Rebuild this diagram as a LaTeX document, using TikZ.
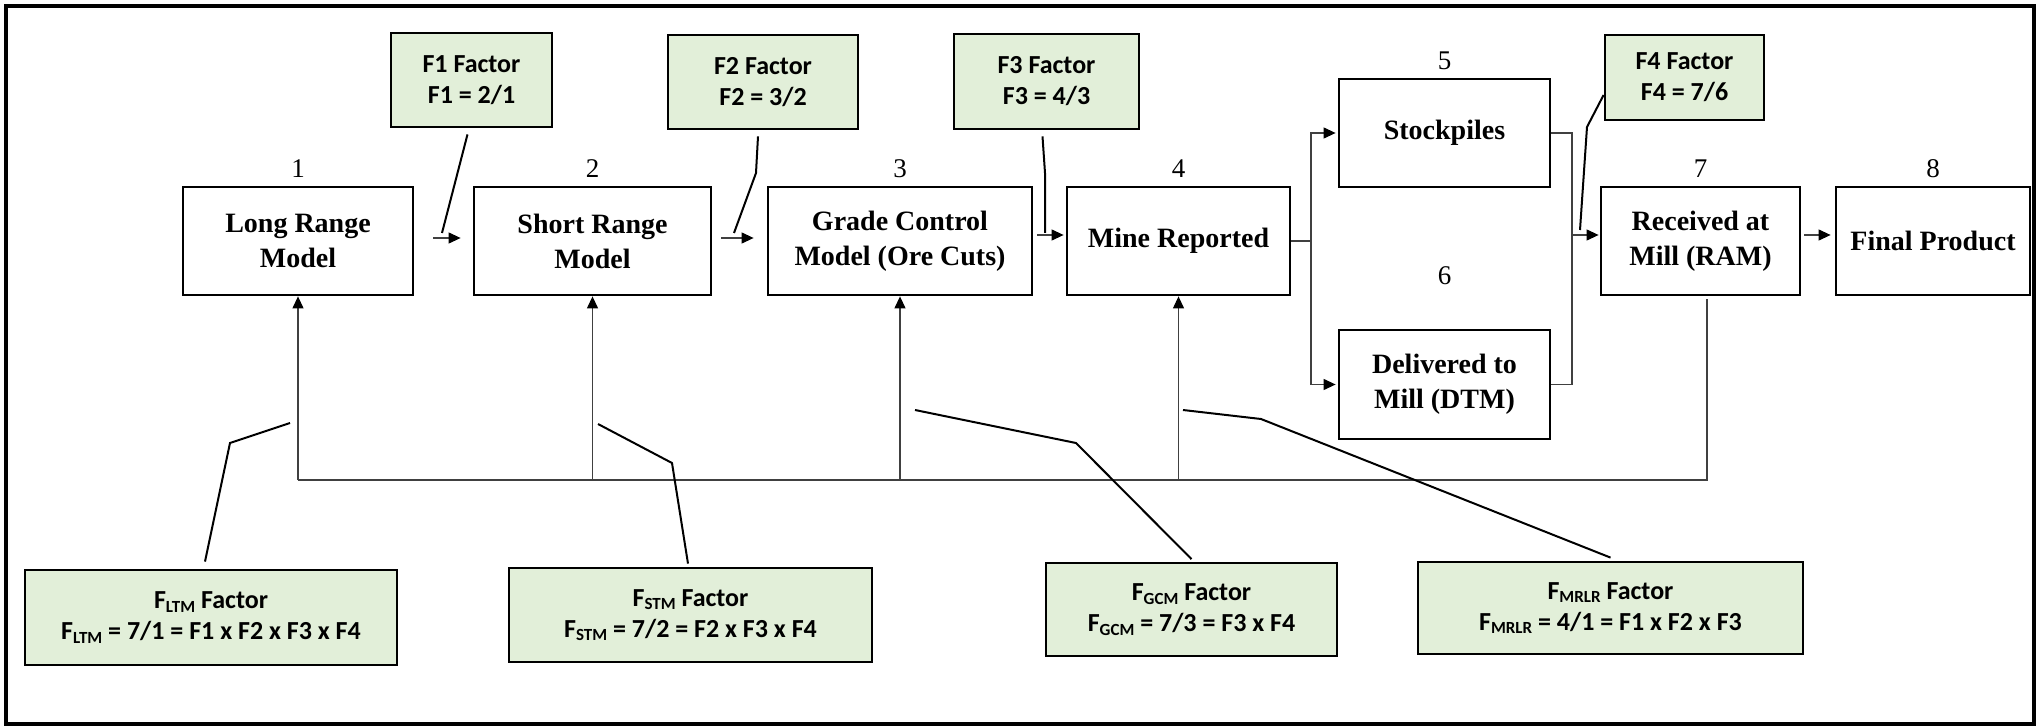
\documentclass[tikz,border=0pt]{standalone}
\usepackage{fontspec}
\setmainfont{Liberation Serif}
\newfontfamily\factorfont{Carlito}
\usetikzlibrary{arrows.meta,calc}
\definecolor{factorgreen}{HTML}{E2EFD9}
\newcommand\fsub[1]{\raisebox{-1.8pt}{\fontsize{8.5}{10}\selectfont #1}}
\begin{document}
\begin{tikzpicture}[x=0.5pt,y=-0.5pt,
  mainbox/.style={draw, line width=1.4pt, fill=white, align=center, inner sep=0pt,
    font=\fontsize{14}{17.5}\selectfont\bfseries},
  factorbox/.style={draw, line width=1.4pt, fill=factorgreen, align=center, inner sep=0pt,
    font=\factorfont\fontsize{13}{15.5}\selectfont\bfseries},
  numlabel/.style={font=\fontsize{13.5}{16}\selectfont, anchor=base, inner sep=0pt},
  lead/.style={line width=1pt},
  bus/.style={line width=0.6pt, draw=black!75},
  flow/.style={bus, -{Triangle[length=6pt,width=5.5pt,color=black]}},
]
\fill[white] (0,0) rectangle (2041,727);
\useasboundingbox (0,0) rectangle (2041,727);
\draw[line width=2.2pt] (6,6) rectangle (2034,724);

% process boxes
\node[mainbox, minimum width=115pt,   minimum height=54pt]   (b1) at (298,241)    {Long Range\\Model};
\node[mainbox, minimum width=118.5pt, minimum height=54pt]   (b2) at (592.5,241)  {Short Range\\Model};
\node[mainbox, minimum width=132pt,   minimum height=54pt]   (b3) at (900,241)    {Grade Control\\Model (Ore Cuts)};
\node[mainbox, minimum width=111.5pt, minimum height=54pt]   (b4) at (1178.5,241) {Mine Reported};
\node[mainbox, minimum width=105.5pt, minimum height=54pt]   (b5) at (1444.5,133) {Stockpiles};
\node[mainbox, minimum width=105.5pt, minimum height=54.5pt] (b6) at (1444.5,384.5) {Delivered to\\Mill (DTM)};
\node[mainbox, minimum width=99.5pt,  minimum height=54pt]   (b7) at (1700.5,241) {Received at\\Mill (RAM)};
\node[mainbox, minimum width=97pt,    minimum height=54pt]   (b8) at (1933,241)   {Final Product};

% step numbers
\node[numlabel] (n1) at (298,178)    {1};
\node[numlabel] (n2) at (592.5,178)  {2};
\node[numlabel] (n3) at (900,178)    {3};
\node[numlabel] (n4) at (1178.5,178) {4};
\node[numlabel] (n5) at (1444.5,70)  {5};
\node[numlabel] (n6) at (1444.5,285) {6};
\node[numlabel] (n7) at (1700.5,178) {7};
\node[numlabel] (n8) at (1933,178)   {8};

% step factors
\node[factorbox, minimum width=80.5pt, minimum height=47pt]   (f1) at (471.5,80)    {F1 Factor\\F1 = 2/1};
\node[factorbox, minimum width=95pt,   minimum height=47pt]   (f2) at (763,82)      {F2 Factor\\F2 = 3/2};
\node[factorbox, minimum width=92.5pt, minimum height=47.5pt] (f3) at (1046.5,81.5) {F3 Factor\\F3 = 4/3};
\node[factorbox, minimum width=79.5pt, minimum height=42.5pt] (f4) at (1684.5,77.5) {F4 Factor\\F4 = 7/6};

% combined factors
\node[factorbox, minimum width=186pt,   minimum height=47.5pt] (g1) at (211,617.5)  {F\fsub{LTM} Factor\\F\fsub{LTM} = 7/1 = F1 x F2 x F3 x F4};
\node[factorbox, minimum width=181.5pt, minimum height=47pt]   (g2) at (690.5,615)  {F\fsub{STM} Factor\\F\fsub{STM} = 7/2 = F2 x F3 x F4};
\node[factorbox, minimum width=145.5pt, minimum height=46.5pt] (g3) at (1191.5,609.5) {F\fsub{GCM} Factor\\F\fsub{GCM} = 7/3 = F3 x F4};
\node[factorbox, minimum width=192.5pt, minimum height=46pt]   (g4) at (1610.5,608) {F\fsub{MRLR} Factor\\F\fsub{MRLR} = 4/1 = F1 x F2 x F3};

% flow between the steps
\coordinate (s12) at (433,238);
\coordinate (s23) at (721,238);
\coordinate (s34) at (1037,235);
\draw[flow, shorten >=6pt]   (s12) -- (s12 -| b2.west);
\draw[flow, shorten >=6.5pt] (s23) -- (s23 -| b3.west);
\draw[flow, shorten >=1pt]   (s34) -- (s34 -| b4.west);

\coordinate (sp) at (1311,239);
\draw[bus] (b4.east) -- (b4.east -| sp);
\draw[flow, shorten >=1pt] (b4.east -| sp) |- (b5.west);
\draw[flow, shorten >=1pt] (b4.east -| sp) |- (b6.west);

\coordinate (mg) at (1572,235);
\draw[bus] (b5.east) -| (mg) |- (b6.east);
\draw[flow, shorten >=0.5pt] (mg) -- (mg -| b7.west);

\draw[flow, shorten <=1.5pt, shorten >=2pt] ($(b7.east)+(0,-6)$) -- ($(b8.west)+(0,-6)$);

% reconciliation feedback
\coordinate (busR) at (1707,480);
\draw[bus] ($(b7.south)+(6.5,3)$) -- (busR) -- (b1.south |- busR);
\draw[flow] (b1.south |- busR) -- (b1.south);
\draw[flow] (b2.south |- busR) -- (b2.south);
\draw[flow] (b3.south |- busR) -- (b3.south);
\draw[flow] (b4.south |- busR) -- (b4.south);

% leaders of the step factors
\coordinate (l1a) at (442,233);
\coordinate (l2b) at (756,173);
\coordinate (l2a) at (734,233);
\coordinate (l3b) at (1045,173);
\coordinate (l3a) at (1045,233);
\coordinate (l4b) at (1587,127);
\coordinate (l4a) at (1580,230);
\draw[lead] ($(f1.south)+(-4,6)$) -- (l1a);
\draw[lead] ($(f2.south)+(-5,6)$) -- (l2b) -- (l2a);
\draw[lead] ($(f3.south)+(-4,6)$) -- (l3b) -- (l3a);
\draw[lead] ($(f4.west)+(0,17.5)$) -- (l4b) -- (l4a);

% leaders of the combined factors
\coordinate (k1b) at (230,443);
\coordinate (k1a) at (290,423);
\coordinate (k2b) at (672,463);
\coordinate (k2a) at (598,424);
\coordinate (k3b) at (1076,443);
\coordinate (k3a) at (915,410);
\coordinate (k4b) at (1261,419);
\coordinate (k4a) at (1183,410);
\draw[lead] ($(g1.north)+(-6,-7)$)   -- (k1b) -- (k1a);
\draw[lead] ($(g2.north)+(-2.5,-3)$) -- (k2b) -- (k2a);
\draw[lead] ($(g3.north)+(0,-2.5)$)  -- (k3b) -- (k3a);
\draw[lead] ($(g4.north)+(0,-3)$)    -- (k4b) -- (k4a);
\end{tikzpicture}
\end{document}
